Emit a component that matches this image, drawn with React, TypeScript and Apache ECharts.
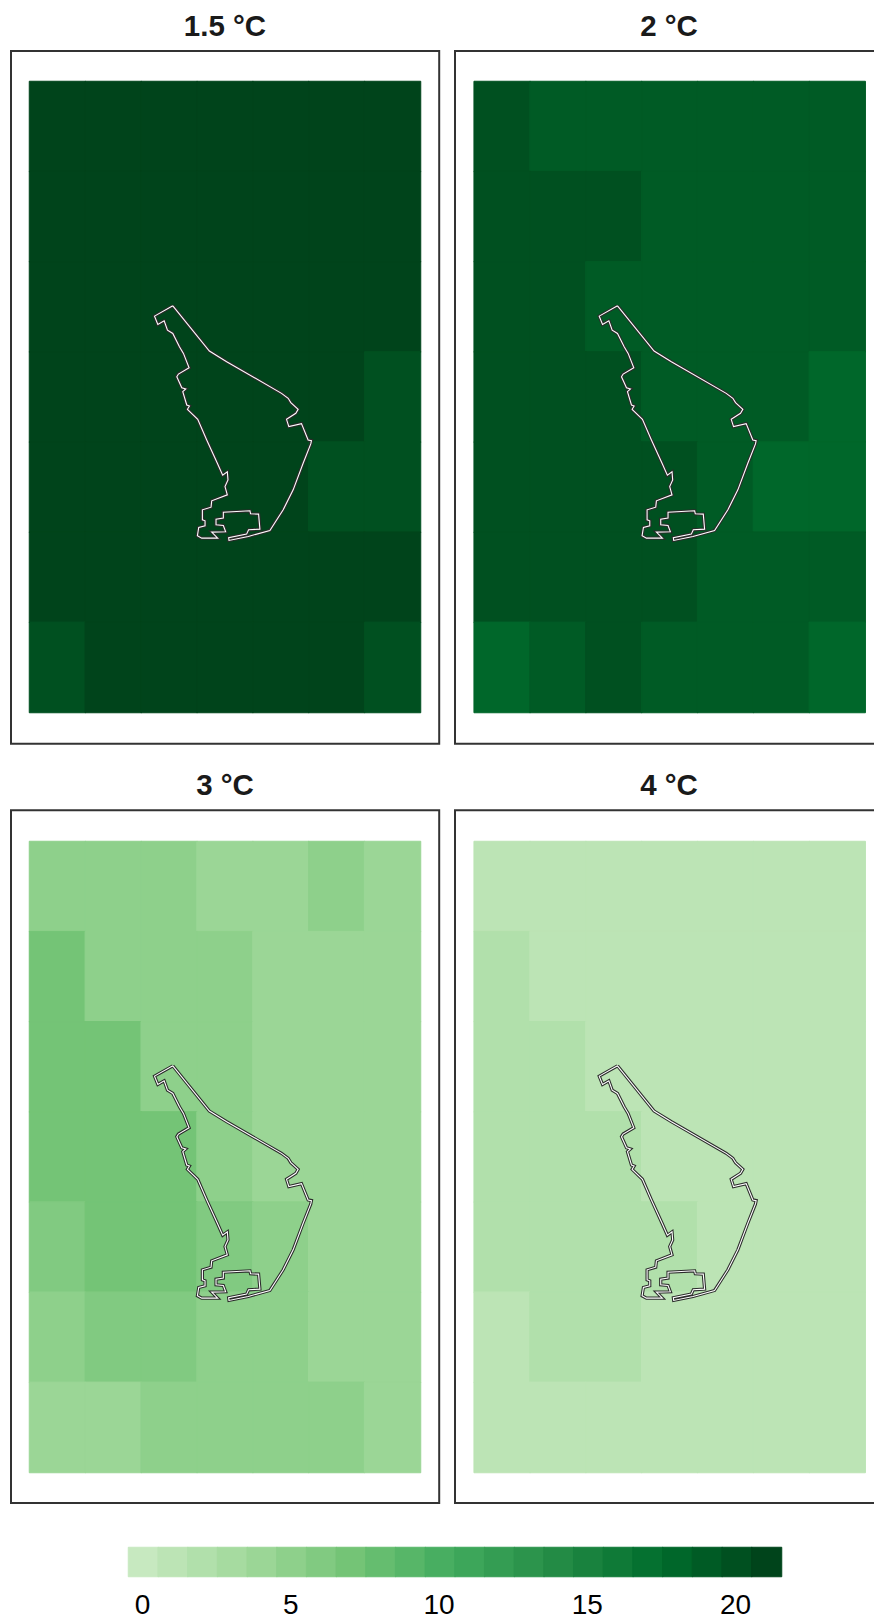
import React, { useEffect, useRef } from "react";
import * as echarts from "echarts";

const palette = [
  "#c7e9c0", "#bce4b5", "#b1e0ab", "#a6dba0", "#9bd696", "#8ed08b", "#81ca81", "#74c476",
  "#65bd6f", "#57b668", "#48ae61", "#3da65a", "#349d53", "#2c944c", "#238b45", "#19823e",
  "#0f7a37", "#057130", "#00672a", "#005b25", "#005020", "#00441b",
];

const titles = ["1.5 °C", "2 °C", "3 °C", "4 °C"];
const cols = ["c0", "c1", "c2", "c3", "c4", "c5", "c6"];
const rows = ["r0", "r1", "r2", "r3", "r4", "r5", "r6"];

const panelA = [
  [21, 21, 21, 21, 21, 21, 21],
  [21, 21, 21, 21, 21, 21, 21],
  [21, 21, 21, 21, 21, 21, 21],
  [21, 21, 21, 21, 21, 21, 20],
  [21, 21, 21, 21, 21, 20, 20],
  [21, 21, 21, 21, 21, 21, 21],
  [20, 21, 21, 21, 21, 21, 20],
];
const panelB = [
  [20, 19, 19, 19, 19, 19, 19],
  [20, 20, 20, 19, 19, 19, 19],
  [20, 20, 19, 19, 19, 19, 19],
  [20, 20, 20, 19, 19, 19, 18],
  [20, 20, 20, 20, 19, 18, 18],
  [20, 20, 20, 20, 19, 19, 19],
  [18, 19, 20, 19, 19, 19, 18],
];
const panelC = [
  [5, 5, 5, 4, 4, 5, 4],
  [7, 5, 5, 5, 4, 4, 4],
  [7, 7, 5, 5, 4, 4, 4],
  [7, 7, 7, 5, 4, 4, 4],
  [6, 7, 7, 6, 5, 4, 4],
  [5, 6, 6, 5, 5, 4, 4],
  [4, 4, 5, 5, 5, 5, 4],
];
const panelD = [
  [1, 1, 1, 1, 1, 1, 1],
  [2, 1, 1, 1, 1, 1, 1],
  [2, 2, 1, 1, 1, 1, 1],
  [2, 2, 2, 1, 1, 1, 1],
  [2, 2, 2, 2, 1, 1, 1],
  [1, 2, 2, 1, 1, 1, 1],
  [1, 1, 1, 1, 1, 1, 1],
];
const panels = [panelA, panelB, panelC, panelD];

// Outline of the area, in the map's own plotting units.
const outlineX = [128, 238, 290, 455, 475, 483, 505, 498, 470, 477, 515, 535, 545, 543, 520, 490, 460, 420, 355, 297, 296, 350, 356, 390, 386, 362, 360, 280, 280, 258, 258, 280, 287, 245, 263, 215, 202, 206, 225, 225, 217, 217, 243, 245, 292, 285, 294, 292, 278, 262, 230, 203, 172, 178, 170, 158, 167, 155, 140, 145, 177, 160, 148, 128, 112, 102, 83, 73, 128];
const outlineY = [47, 183, 215, 310, 325, 338, 358, 370, 388, 410, 401, 450, 452, 462, 520, 600, 660, 722, 740, 752, 744, 733, 720, 718, 673, 672, 663, 667, 685, 688, 705, 707, 726, 727, 745, 745, 738, 713, 708, 693, 690, 660, 652, 633, 615, 590, 570, 546, 556, 520, 450, 388, 358, 348, 345, 305, 297, 293, 260, 252, 233, 190, 170, 130, 120, 92, 103, 78, 47];
const mapXRange = [-303, 873];
const mapYRange = [-627, 1269];

const legendValues = palette.map((_, i) => String(i));
const legendTickMax = 20;
const legendTickStep = 5;

const W = 874;
const H = 1618;
const gridLefts = [29.5, 474.2];
const gridTops = [81.5, 841.5];
const gridW = 391;
const gridH = 631;
const boxLefts = [11, 455];
const boxTops = [51, 810.3];
const boxW = 428.2;
const boxH = 692.7;
const titleCx = [225, 669];
const titleY = [25, 784];

function cell(x: number, y: number, v: number) {
  const color = palette[v];
  return { value: [x, y, v], itemStyle: { borderColor: color, borderWidth: 1 } };
}

function buildOption() {
  const grid: any[] = [];
  const xAxis: any[] = [];
  const yAxis: any[] = [];
  const series: any[] = [];
  const title: any[] = [];
  const graphic: any[] = [];
  const heatmapIndices: number[] = [];

  panels.forEach((panel, p) => {
    const c = p % 2;
    const r = Math.floor(p / 2);
    grid.push({ left: gridLefts[c], top: gridTops[r], width: gridW, height: gridH, show: false });
    const catX = xAxis.length;
    xAxis.push({ type: "category", gridIndex: p, data: cols, show: false });
    xAxis.push({ type: "value", gridIndex: p, min: mapXRange[0], max: mapXRange[1], show: false });
    yAxis.push({ type: "category", gridIndex: p, data: rows, inverse: true, show: false });
    yAxis.push({ type: "value", gridIndex: p, min: mapYRange[0], max: mapYRange[1], inverse: true, show: false });

    const cells: any[] = [];
    panel.forEach((row, ri) => row.forEach((v, ci) => cells.push(cell(ci, ri, v))));
    heatmapIndices.push(series.length);
    series.push({
      type: "heatmap",
      xAxisIndex: catX,
      yAxisIndex: catX,
      data: cells,
      silent: true,
    });
    const line = outlineX.map((x, i) => [x, outlineY[i]]);
    series.push({
      type: "line",
      xAxisIndex: catX + 1,
      yAxisIndex: catX + 1,
      data: line,
      symbol: "none",
      silent: true,
      clip: false,
      z: 5,
      lineStyle: { color: "#2b2b2b", width: 3.2, join: "miter", cap: "butt" },
    });
    series.push({
      type: "line",
      xAxisIndex: catX + 1,
      yAxisIndex: catX + 1,
      data: line,
      symbol: "none",
      silent: true,
      clip: false,
      z: 6,
      lineStyle: { color: "#ffffff", width: 1.1, join: "miter", cap: "butt" },
    });

    title.push({
      text: titles[p],
      left: titleCx[c],
      top: titleY[r],
      padding: 0,
      textAlign: "center",
      textVerticalAlign: "middle",
      textStyle: { fontFamily: "Liberation Sans", fontWeight: "bold", fontSize: 29.5, color: "#1a1a1a" },
    });
    graphic.push({
      type: "rect",
      shape: { x: boxLefts[c], y: boxTops[r], width: boxW, height: boxH },
      style: { fill: "none", stroke: "#333333", lineWidth: 2 },
      z: 10,
      silent: true,
    });
  });

  // Colour bar
  const g = panels.length;
  grid.push({ left: 128.5, top: 1547.5, width: 653, height: 29, show: false });
  const ax = xAxis.length;
  xAxis.push({ type: "category", gridIndex: g, data: legendValues, show: false });
  yAxis.push({ type: "category", gridIndex: g, data: ["bar"], show: false });
  heatmapIndices.push(series.length);
  series.push({
    type: "heatmap",
    xAxisIndex: ax,
    yAxisIndex: yAxis.length - 1,
    silent: true,
    data: palette.map((_, i) => cell(i, 0, i)),
  });

  // Colour bar tick labels
  grid.push({ left: 142.5, top: 1547, width: 593, height: 30, show: false });
  xAxis.push({
    type: "value",
    gridIndex: g + 1,
    min: 0,
    max: legendTickMax,
    interval: legendTickStep,
    axisLine: { show: false },
    axisTick: { show: false },
    splitLine: { show: false },
    axisLabel: {
      margin: 13,
      color: "#000000",
      fontFamily: "Liberation Sans",
      fontSize: 28,
    },
  });
  yAxis.push({ type: "value", gridIndex: g + 1, show: false });

  return {
    animation: false,
    backgroundColor: "#ffffff",
    title,
    grid,
    xAxis,
    yAxis,
    series,
    visualMap: {
      type: "piecewise",
      show: false,
      dimension: 2,
      seriesIndex: heatmapIndices,
      pieces: palette.map((color, i) => ({ value: i, color })),
    },
    graphic: { elements: graphic },
    tooltip: { show: false },
  };
}

export default function App() {
  const ref = useRef<HTMLDivElement>(null);
  useEffect(() => {
    const chart = echarts.init(ref.current!, undefined, { renderer: "svg" });
    chart.setOption(buildOption() as any);
    return () => chart.dispose();
  }, []);
  return <div ref={ref} style={{ position: "absolute", left: 0, top: 0, width: W, height: H }} />;
}
